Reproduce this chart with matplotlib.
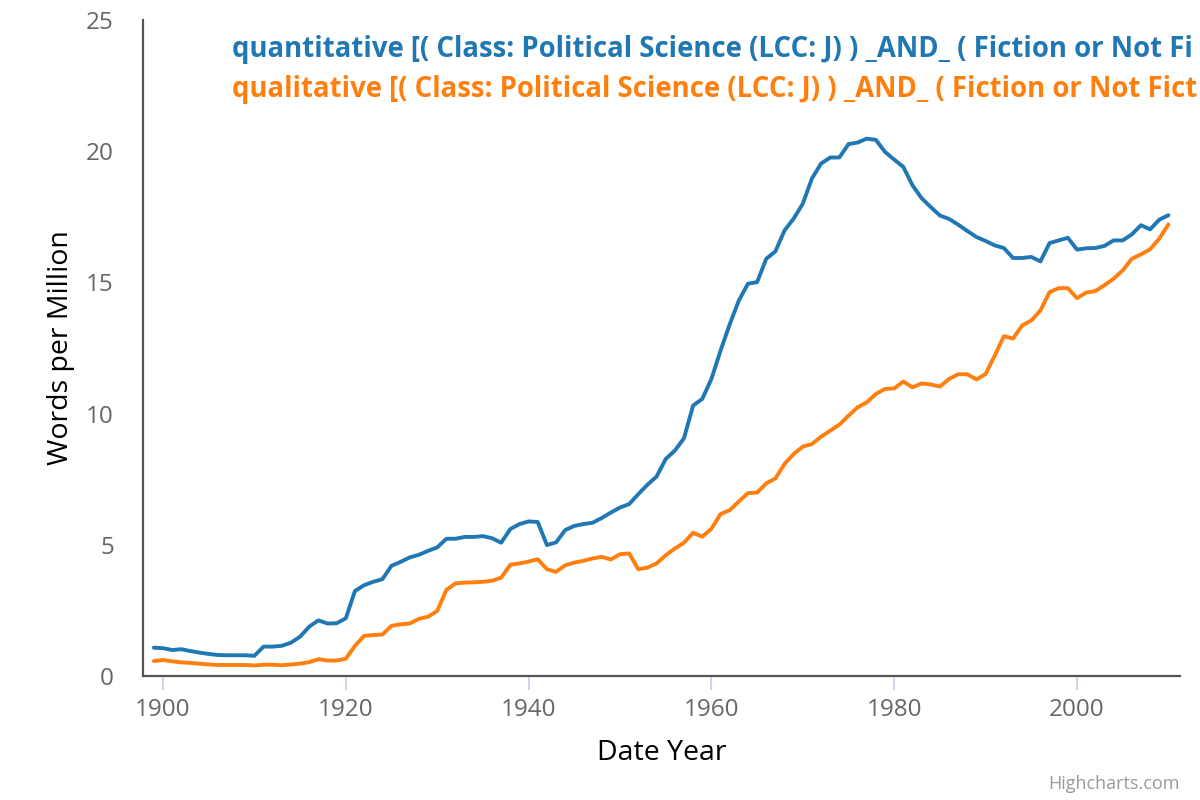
import matplotlib
matplotlib.use("Agg")
import matplotlib.pyplot as plt

years = list(range(1899, 2011))

quantitative = [
    1.08, 1.06, 0.99, 1.02, 0.95, 0.89, 0.84, 0.80, 0.79, 0.79,
    0.79, 0.77, 1.12, 1.12, 1.15, 1.27, 1.50, 1.88, 2.12, 2.00,
    2.01, 2.20, 3.24, 3.46, 3.59, 3.69, 4.20, 4.35, 4.52, 4.62,
    4.77, 4.90, 5.23, 5.23, 5.30, 5.30, 5.33, 5.25, 5.08, 5.60,
    5.79, 5.89, 5.87, 4.99, 5.09, 5.56, 5.72, 5.79, 5.84, 6.02,
    6.23, 6.42, 6.55, 6.93, 7.29, 7.60, 8.27, 8.59, 9.06, 10.31,
    10.56, 11.32, 12.40, 13.40, 14.31, 14.95, 15.01, 15.90, 16.18, 16.98,
    17.43, 18.00, 18.96, 19.53, 19.76, 19.76, 20.27, 20.33, 20.48, 20.43,
    19.97, 19.68, 19.40, 18.70, 18.21, 17.87, 17.55, 17.42, 17.20, 16.96,
    16.73, 16.58, 16.41, 16.31, 15.93, 15.93, 15.97, 15.80, 16.50, 16.60,
    16.70, 16.25, 16.30, 16.31, 16.39, 16.60, 16.60, 16.83, 17.18, 17.02,
    17.39, 17.56,
]

qualitative = [
    0.57, 0.61, 0.56, 0.52, 0.50, 0.47, 0.44, 0.42, 0.42, 0.42,
    0.42, 0.40, 0.43, 0.43, 0.41, 0.44, 0.47, 0.53, 0.64, 0.59,
    0.59, 0.66, 1.15, 1.53, 1.56, 1.58, 1.91, 1.97, 2.00, 2.18,
    2.26, 2.48, 3.28, 3.53, 3.56, 3.57, 3.59, 3.63, 3.75, 4.24,
    4.29, 4.36, 4.45, 4.07, 3.97, 4.22, 4.32, 4.39, 4.48, 4.54,
    4.44, 4.64, 4.67, 4.07, 4.13, 4.29, 4.60, 4.86, 5.08, 5.46,
    5.31, 5.61, 6.17, 6.32, 6.65, 6.97, 6.99, 7.34, 7.53, 8.08,
    8.46, 8.74, 8.84, 9.12, 9.35, 9.58, 9.92, 10.24, 10.43, 10.75,
    10.94, 10.96, 11.22, 11.00, 11.15, 11.11, 11.03, 11.32, 11.50, 11.50,
    11.30, 11.51, 12.21, 12.95, 12.86, 13.36, 13.55, 13.93, 14.63, 14.78,
    14.78, 14.40, 14.61, 14.67, 14.89, 15.14, 15.46, 15.90, 16.07, 16.26,
    16.67, 17.21,
]

x_ticks = [1900, 1920, 1940, 1960, 1980, 2000]
y_ticks = [0, 5, 10, 15, 20, 25]

# legend labels as visible in the reference (cut at the chart's right edge)
label_quant = "quantitative [( Class: Political Science (LCC: J) ) _AND_ ( Fiction or Not Fi"
label_qual = "qualitative [( Class: Political Science (LCC: J) ) _AND_ ( Fiction or Not Fict"

BLUE = "#1f77b4"
ORANGE = "#ff7f0e"

plt.rcParams["font.family"] = ["Open Sans", "DejaVu Sans"]

fig = plt.figure(figsize=(12, 8), dpi=100)
ax = fig.add_axes([143 / 1200, 1 - 676 / 800, (1180 - 143) / 1200, (676 - 20) / 800])

ax.plot(years, quantitative, color=BLUE, lw=2.8, solid_joinstyle="round", solid_capstyle="round")
ax.plot(years, qualitative, color=ORANGE, lw=2.8, solid_joinstyle="round", solid_capstyle="round")

ax.set_xlim(1897.81, 2011.27)
ax.set_ylim(0, 25)
ax.set_xticks(x_ticks)
ax.set_yticks(y_ticks)

for s in ["top", "right"]:
    ax.spines[s].set_visible(False)
for s in ["left", "bottom"]:
    ax.spines[s].set_color("#555555")
    ax.spines[s].set_linewidth(1.6)

ax.tick_params(axis="x", colors="#ccd6eb", length=10, width=1.4, pad=6,
               labelcolor="#666666", labelsize=17.5)
ax.tick_params(axis="y", length=0, pad=21, labelcolor="#666666", labelsize=17.5)

ax.set_xlabel("Date Year", fontsize=20.5, color="black", labelpad=12)
ax.set_ylabel("Words per Million", fontsize=20.5, color="black", labelpad=8)

fig.text(232 / 1200, 1 - 50 / 800, label_quant, color=BLUE, fontsize=19.8,
         fontweight="bold", va="center", ha="left")
fig.text(232 / 1200, 1 - 90 / 800, label_qual, color=ORANGE, fontsize=19.8,
         fontweight="bold", va="center", ha="left")

fig.text(1180 / 1200, 1 - 784 / 800, "Highcharts.com", color="#999999",
         fontsize=13, ha="right", va="center")

fig.savefig("out.png", dpi=100, facecolor="white")
